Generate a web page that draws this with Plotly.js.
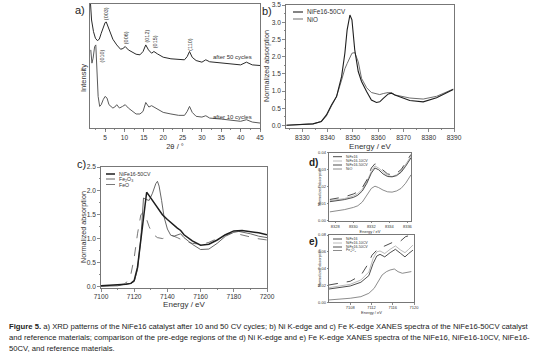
<!DOCTYPE html>
<html><head><meta charset="utf-8">
<script src="https://cdn.plot.ly/plotly-3.0.1.min.js"></script>
<style>html,body{margin:0;padding:0;background:#fff}#chart{width:539px;height:355px}</style>
</head><body><div id="chart"></div>
<script>
// ---------- Panel a: XRD ----------
const xrd50_2theta = [1.2,1.5,2.0,2.5,3.0,3.5,4.0,4.5,5.0,5.3,5.8,6.5,7.0,8.0,9.0,9.6,10.2,11.0,12.0,13.0,14.0,14.8,15.5,16.2,17.0,17.6,18.5,20.0,22.0,24.0,25.5,26.2,26.8,27.5,28.5,30.0,31.0,32.0,35.0,38.0,40.0,41.5,43.0,45.0];
const xrd50_int    = [102,87.1,77.7,72.4,70.5,71.6,76.4,81.8,85.0,85.5,81.8,75.1,71.6,67.0,63.5,64.1,65.7,63.0,60.9,59.5,59.0,61.7,67.0,63.0,60.3,61.7,59.8,57.1,55.8,55.0,55.0,57.6,61.7,57.0,54.4,53.1,55.0,53.4,52.3,51.7,50.9,53.1,50.9,50.4];
const xrd10_2theta = [1.3,1.6,1.9,2.3,2.6,2.9,3.2,3.6,4.0,4.5,5.0,5.5,6.0,7.0,7.5,8.0,8.7,9.5,10.2,11.0,12.0,13.0,14.0,14.8,15.5,16.3,17.0,18.0,19.0,20.0,22.0,24.0,25.5,26.2,26.8,27.5,28.5,30.0,31.0,32.0,35.0,38.0,40.0,41.5,43.0,45.0];
const xrd10_int    = [63.0,52.3,56.3,65.7,67.0,49.6,25.5,17.4,18.8,22.8,25.5,24.1,18.8,16.1,16.9,18.8,16.1,17.4,18.8,16.1,13.4,11.3,11.3,13.4,20.6,16.9,18.0,16.1,14.2,12.6,11.3,10.2,10.2,13.4,17.4,12.6,9.4,8.8,9.9,8.0,7.2,6.2,5.4,6.7,4.8,4.0];
const xrdPeakLabels = ['(003)','(006)','(012)','(015)','(110)','(010)'];
const xrdPeakX      = [5.3,10.4,15.8,17.9,26.9,4.15];
const xrdPeakY      = [92,72.4,74.5,69.2,67.8,58.4];

// ---------- Panel b: Ni K-edge ----------
const niE      = [8323.7,8330.3,8334.2,8337.5,8339.5,8341.5,8343.5,8345.5,8346.8,8347.7,8348.8,8349.6,8350.7,8352.1,8353.4,8355.4,8357.3,8359.3,8360.6,8362.0,8364.0,8365.3,8366.6,8372.5,8377.8,8383.1,8389.7];
const niFe50CV = [0.01,0.03,0.05,0.12,0.31,0.60,0.84,1.42,2.10,2.78,3.21,3.07,2.20,1.57,1.28,0.99,0.74,0.67,0.69,0.79,0.92,0.94,0.89,0.73,0.69,0.81,1.05];
const niNiO    = [0.01,0.03,0.05,0.12,0.28,0.57,0.84,1.32,1.65,1.80,1.98,2.10,2.12,1.85,1.37,1.10,0.96,0.91,0.90,0.93,0.96,0.95,0.89,0.80,0.77,0.85,1.06];

// ---------- Panel c: Fe K-edge ----------
const feE      = [7100,7110,7115,7118,7120,7122,7124,7126,7127.5,7129,7131,7133,7135,7137,7140,7143,7146,7148,7150,7155,7160,7165,7170,7175,7180,7185,7190,7195,7200];
const feFe50CV = [0.01,0.02,0.04,0.06,0.12,0.40,0.95,1.60,1.97,1.90,1.80,1.72,1.60,1.50,1.40,1.30,1.22,1.17,1.08,0.95,0.86,0.88,0.97,1.08,1.16,1.17,1.15,1.12,1.08];
const feFe2O3E = [7100,7110,7114,7116,7118,7120,7122,7124,7125.6,7127,7129,7131,7133,7134,7135,7136.5,7138,7140,7142,7144,7146,7148,7150,7155,7160,7165,7170,7175,7180,7183,7190,7195,7200];
const feFe2O3  = [0.0,0.01,0.04,0.05,0.06,0.10,0.35,1.00,1.85,1.82,1.80,1.95,2.15,2.20,2.10,1.80,1.45,1.20,1.07,1.05,1.08,1.10,1.02,0.88,0.77,0.78,0.90,1.05,1.13,1.15,1.10,1.05,1.02];
const feFeOE   = [7100,7110,7114,7116,7118,7120,7122,7124,7125.5,7127,7129,7131,7134,7137,7140,7143,7146,7150,7155,7160,7165,7170,7175,7178,7182,7188,7194,7200];
const feFeO    = [0.01,0.02,0.05,0.10,0.25,0.60,1.10,1.50,1.55,1.45,1.25,1.10,1.02,1.00,1.03,1.06,1.02,0.95,0.90,0.88,0.92,1.00,1.08,1.11,1.10,1.05,1.00,0.97];

// ---------- Panel d: Ni pre-edge ----------
const dE       = [8327.4,8328,8329,8330,8330.5,8331,8331.5,8332,8332.4,8332.8,8333.3,8333.8,8334.3,8334.8,8335.3,8335.8,8336.4];
const dNiFe16  = [0.0125,0.013,0.014,0.0157,0.017,0.0195,0.024,0.031,0.0335,0.032,0.0295,0.0275,0.027,0.028,0.030,0.034,0.039];
const dNiFe10  = [0.0118,0.0122,0.013,0.0145,0.016,0.0185,0.023,0.029,0.0322,0.031,0.0285,0.0265,0.026,0.027,0.029,0.033,0.038];
const dNiFe50  = [0.0112,0.0116,0.0124,0.0137,0.015,0.0175,0.022,0.028,0.031,0.030,0.0275,0.026,0.0258,0.0265,0.0285,0.032,0.037];
const dNiO     = [0.0052,0.0056,0.0065,0.0078,0.0088,0.011,0.015,0.019,0.0203,0.0195,0.018,0.017,0.0168,0.0175,0.019,0.022,0.027];

// ---------- Panel e: Fe pre-edge ----------
const eE       = [7104,7108,7110,7111.3,7112.1,7113.3,7114.5,7115.7,7116.6,7117.5,7118.4,7119.5];
const eNiFe16  = [0.0206,0.025,0.032,0.045,0.056,0.064,0.067,0.070,0.073,0.073,0.078,0.080];
const eE2      = [7104,7108,7110,7111.5,7112.3,7113,7113.6,7114.5,7115.5,7116.5,7117.5,7118.3,7119,7119.8];
const eNiFe10  = [0.0174,0.0214,0.0265,0.036,0.052,0.060,0.061,0.058,0.063,0.067,0.062,0.059,0.063,0.068];
const eNiFe50  = [0.0158,0.0194,0.0238,0.0317,0.046,0.055,0.057,0.054,0.059,0.063,0.058,0.054,0.058,0.062];
const eFe2O3E  = [7104,7108,7110,7111.5,7112.5,7113.3,7114,7114.8,7115.5,7116.3,7117,7117.8,7118.5,7119.5];
const eFe2O3   = [0.0028,0.0048,0.0067,0.0107,0.0166,0.0246,0.0325,0.0364,0.0384,0.0396,0.0364,0.0345,0.0356,0.0365];

// ---------- Text ----------
const captionLines = [
  '<b>Figure 5.</b> a) XRD patterns of the NiFe16 catalyst after 10 and 50 CV cycles; b) Ni K-edge and c) Fe K-edge XANES spectra of the NiFe16-50CV catalyst',
  'and reference materials; comparison of the pre-edge regions of the d) Ni K-edge and e) Fe K-edge XANES spectra of the NiFe16, NiFe16-10CV, NiFe16-',
  '50CV, and reference materials.'
];

// ---------- layout helpers (pixel -> paper) ----------
const W = 539, H = 355;
const PX = x => x / W, PY = y => 1 - y / H;
const FONT = 'Liberation Sans, Arial, sans-serif';
const DARK = '#1e1e1e', GRAY = '#6e6e6e', LIGHT = '#a8a8a8';

function ax(extra) {
  return Object.assign({
    showline: true, mirror: true, linecolor: '#555', linewidth: 0.8,
    ticks: 'outside', ticklen: 3, tickwidth: 0.7, tickcolor: '#555',
    showgrid: false, zeroline: false, fixedrange: true,
    tickfont: {family: FONT, size: 6.6, color: '#333'}
  }, extra);
}
function ttl(text, size, standoff) {
  return {text: text, font: {family: FONT, size: size, color: '#333'}, standoff: standoff};
}

const traces = [
  {x: xrd50_2theta, y: xrd50_int, xaxis: 'x', yaxis: 'y', mode: 'lines', line: {color: '#2a2a2a', width: 1}, name: 'after 50 cycles'},
  {x: xrd10_2theta, y: xrd10_int, xaxis: 'x', yaxis: 'y', mode: 'lines', line: {color: '#5a5a5a', width: 1}, name: 'after 10 cycles'},
  {x: niE, y: niNiO, xaxis: 'x2', yaxis: 'y2', mode: 'lines', line: {color: GRAY, width: 1}, name: 'NiO'},
  {x: niE, y: niFe50CV, xaxis: 'x2', yaxis: 'y2', mode: 'lines', line: {color: DARK, width: 1.1}, name: 'NiFe16-50CV'},
  {x: feFeOE, y: feFeO, xaxis: 'x3', yaxis: 'y3', mode: 'lines', line: {color: '#555', width: 0.8, dash: 'dash'}, name: 'FeO'},
  {x: feFe2O3E, y: feFe2O3, xaxis: 'x3', yaxis: 'y3', mode: 'lines', line: {color: '#555', width: 0.9}, name: 'Fe2O3'},
  {x: feE, y: feFe50CV, xaxis: 'x3', yaxis: 'y3', mode: 'lines', line: {color: DARK, width: 1.5}, name: 'NiFe16-50CV'},
  {x: dE, y: dNiO, xaxis: 'x4', yaxis: 'y4', mode: 'lines', line: {color: GRAY, width: 0.8}, name: 'NiO'},
  {x: dE, y: dNiFe10, xaxis: 'x4', yaxis: 'y4', mode: 'lines', line: {color: LIGHT, width: 0.8}, name: 'NiFe16-10CV'},
  {x: dE, y: dNiFe50, xaxis: 'x4', yaxis: 'y4', mode: 'lines', line: {color: '#3a3a3a', width: 0.9}, name: 'NiFe16-50CV'},
  {x: dE, y: dNiFe16, xaxis: 'x4', yaxis: 'y4', mode: 'lines', line: {color: DARK, width: 0.8, dash: 'dash'}, name: 'NiFe16'},
  {x: eFe2O3E, y: eFe2O3, xaxis: 'x5', yaxis: 'y5', mode: 'lines', line: {color: GRAY, width: 0.8}, name: 'Fe2O3'},
  {x: eE2, y: eNiFe10, xaxis: 'x5', yaxis: 'y5', mode: 'lines', line: {color: LIGHT, width: 0.8}, name: 'NiFe16-10CV'},
  {x: eE2, y: eNiFe50, xaxis: 'x5', yaxis: 'y5', mode: 'lines', line: {color: '#3a3a3a', width: 0.9}, name: 'NiFe16-50CV'},
  {x: eE, y: eNiFe16, xaxis: 'x5', yaxis: 'y5', mode: 'lines', line: {color: DARK, width: 0.8, dash: 'dash'}, name: 'NiFe16'}
];

const small = {family: FONT, size: 4, color: '#333'};

const layout = {
  width: W, height: H, margin: {l: 0, r: 0, t: 0, b: 0},
  paper_bgcolor: '#fff', plot_bgcolor: '#fff', showlegend: false,
  font: {family: FONT, color: '#333'},
  // a
  xaxis: ax({domain: [PX(90), PX(260)], range: [1.1, 45], anchor: 'y', tickvals: [5,10,15,20,25,30,35,40,45],
             minor: {dtick: 2.5, ticklen: 1.5, tickcolor: '#555', ticks: 'outside'},
             title: ttl('2θ / °', 7.5, 3)}),
  yaxis: ax({domain: [PY(128), PY(4)], range: [0, 100], anchor: 'x', ticks: '', showticklabels: false}),
  // b
  xaxis2: ax({domain: [PX(286), PX(454)], range: [8323.5, 8390], anchor: 'y2', dtick: 10, tick0: 8330,
              minor: {dtick: 5, ticklen: 1.5, tickcolor: '#555', ticks: 'outside'},
              title: ttl('Energy / eV', 8, 3)}),
  yaxis2: ax({domain: [PY(128), PY(5)], range: [-0.07, 3.5], anchor: 'x2', dtick: 0.5, tickformat: '.1f',
              minor: {dtick: 0.25, ticklen: 1.5, tickcolor: '#555', ticks: 'outside'}}),
  // c
  xaxis3: ax({domain: [PX(101), PX(267)], range: [7100, 7200], anchor: 'y3', dtick: 20,
              minor: {dtick: 10, ticklen: 1.5, tickcolor: '#555', ticks: 'outside'},
              title: ttl('Energy / eV', 8, 0)}),
  yaxis3: ax({domain: [PY(287.7), PY(167)], range: [-0.03, 2.5], anchor: 'x3', dtick: 0.5, tickformat: '.1f',
              minor: {dtick: 0.25, ticklen: 1.5, tickcolor: '#555', ticks: 'outside'}}),
  // d
  xaxis4: ax({domain: [PX(329), PX(411)], range: [8327.3, 8336.4], anchor: 'y4', dtick: 2, tick0: 8328, ticklen: 1.5,
              tickfont: small, title: ttl('Energy / eV', 4, 1)}),
  yaxis4: ax({domain: [PY(220.7), PY(152.7)], range: [0, 0.04], anchor: 'x4', dtick: 0.01, tickformat: '.2f', ticklen: 1.5,
              tickfont: small}),
  // e
  xaxis5: ax({domain: [PX(329), PX(414)], range: [7104, 7120], anchor: 'y5', tickvals: [7108,7112,7116,7120], ticklen: 1.5,
              tickfont: small, title: ttl('Energy / eV', 4, 1)}),
  yaxis5: ax({domain: [PY(302.3), PY(235)], range: [0, 0.08], anchor: 'x5', dtick: 0.02, tickformat: '.2f', ticklen: 1.5,
              tickfont: small}),
  annotations: [],
  shapes: []
};

// y-axis titles: [text, x, y, size]
const yTitles = [['Intensity', 83, 78, 7.5], ['Normalized absorption', 267, 66, 7.2],
                 ['Normalized absorption', 83, 227, 7.2], ['Normalized absorption', 320, 187, 3.8],
                 ['Normalized absorption', 320, 268, 3.8]];
yTitles.forEach(t => layout.annotations.push({
  xref: 'paper', yref: 'paper', x: PX(t[1]), y: PY(t[2]), xanchor: 'center', yanchor: 'middle', textangle: -90,
  text: t[0], showarrow: false, font: {family: FONT, size: t[3], color: '#333'}
}));

// XRD peak labels (rotated)
xrdPeakLabels.forEach((t, i) => layout.annotations.push({
  xref: 'x', yref: 'y', x: xrdPeakX[i], y: xrdPeakY[i], text: t, textangle: -90, showarrow: false,
  font: {family: FONT, size: 5.5, color: '#333'}
}));
layout.annotations.push({xref: 'x', yref: 'y', x: 38, y: 57, text: 'after 50 cycles', showarrow: false,
  font: {family: FONT, size: 6, color: '#333'}});
layout.annotations.push({xref: 'x', yref: 'y', x: 38, y: 9, text: 'after 10 cycles', showarrow: false,
  font: {family: FONT, size: 6, color: '#333'}});

// panel letters
const letters = [['a)', 80, 10, 11, false], ['b)', 267, 11, 11, false], ['c)', 81, 164, 11, false],
                 ['d)', 313, 162, 10, true], ['e)', 313, 241, 10, true]];
letters.forEach(l => layout.annotations.push({
  xref: 'paper', yref: 'paper', x: PX(l[1]), y: PY(l[2]), xanchor: 'center', yanchor: 'middle',
  text: l[4] ? '<b>' + l[0] + '</b>' : l[0], showarrow: false, font: {family: FONT, size: l[3], color: '#222'}
}));

// manual legends: [label, x0, x1, y, color, width, dash, fontsize]
const legendItems = [
  ['NiFe16-50CV', 293, 303, 12, DARK, 1.1, 'solid', 6.3],
  ['NiO', 293, 303, 19, GRAY, 1, 'solid', 6.3],
  ['NiFe16-50CV', 106, 115, 174, DARK, 1.5, 'solid', 5.2],
  ['Fe<sub>2</sub>O<sub>3</sub>', 106, 115, 179, '#555', 0.9, 'solid', 5.2],
  ['FeO', 106, 115, 184.5, '#555', 0.8, 'dash', 5.2],
  ['NiFe16', 333, 342, 156.7, DARK, 0.8, 'dash', 3.6],
  ['NiFe16-10CV', 333, 342, 161, LIGHT, 0.8, 'solid', 3.6],
  ['NiFe16-50CV', 333, 342, 165, '#3a3a3a', 0.9, 'solid', 3.6],
  ['NiO', 333, 342, 169, GRAY, 0.8, 'solid', 3.6],
  ['NiFe16', 333, 342, 239, DARK, 0.8, 'dash', 3.6],
  ['NiFe16-10CV', 333, 342, 243, LIGHT, 0.8, 'solid', 3.6],
  ['NiFe16-50CV', 333, 342, 247, '#3a3a3a', 0.9, 'solid', 3.6],
  ['Fe<sub>2</sub>O<sub>3</sub>', 333, 342, 250.5, GRAY, 0.8, 'solid', 3.6]
];
legendItems.forEach(it => {
  layout.shapes.push({type: 'line', xref: 'paper', yref: 'paper', x0: PX(it[1]), x1: PX(it[2]), y0: PY(it[3]), y1: PY(it[3]),
    line: {color: it[4], width: it[5], dash: it[6]}});
  layout.annotations.push({xref: 'paper', yref: 'paper', x: PX(it[2] + 1.5), y: PY(it[3]), xanchor: 'left', yanchor: 'middle',
    text: it[0], showarrow: false, font: {family: FONT, size: it[7], color: '#333'}});
});

// caption
const capY = [326.5, 337.5, 348];
const capSize = [7.7, 7.7, 7.7];
captionLines.forEach((t, i) => layout.annotations.push({
  xref: 'paper', yref: 'paper', x: PX(7), y: PY(capY[i]), xanchor: 'left', yanchor: 'middle',
  text: t, showarrow: false, font: {family: FONT, size: capSize[i], color: '#222'}
}));

Plotly.newPlot('chart', traces, layout, {staticPlot: true, displayModeBar: false});
</script>
</body></html>
